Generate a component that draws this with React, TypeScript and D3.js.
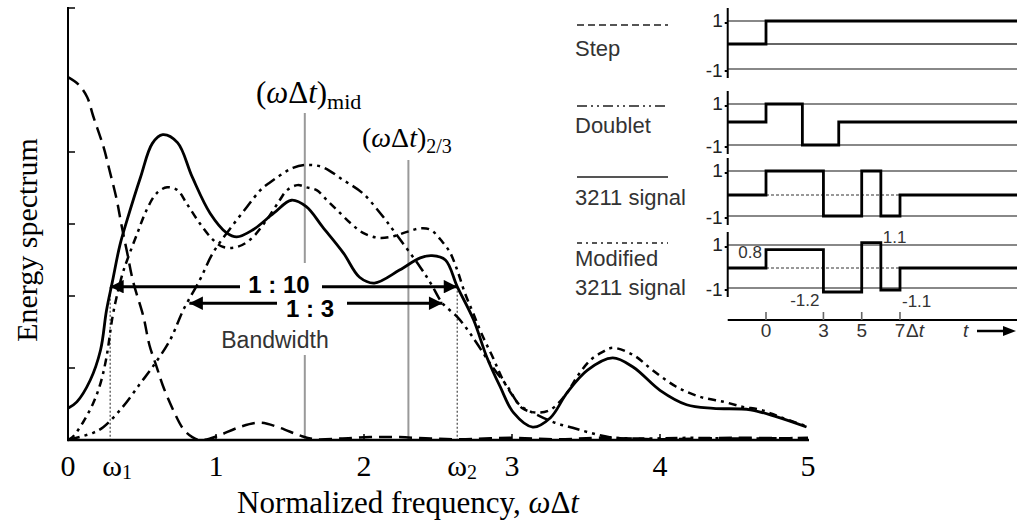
import React from 'react';
import * as d3 from 'd3';

// ---------------- main chart data ----------------
const stepOmega = [0, 0.07, 0.13, 0.17, 0.24, 0.28, 0.33, 0.36, 0.40, 0.44, 0.51, 0.55, 0.60, 0.64, 0.71, 0.78, 0.84, 0.89, 0.96, 1.03, 1.16, 1.30, 1.43, 1.57, 1.67, 1.84, 2.04, 2.24, 2.45, 2.65, 3.0, 3.3, 3.6, 4.0, 4.5, 5.0];
const stepEnergy = [5.04, 4.94, 4.76, 4.5, 4.07, 3.75, 3.33, 3.0, 2.6, 2.2, 1.71, 1.32, 1.01, 0.76, 0.42, 0.15, 0.04, 0.0, 0.02, 0.07, 0.18, 0.24, 0.17, 0.06, 0.01, 0.02, 0.04, 0.04, 0.02, 0.01, 0.03, 0.01, 0.03, 0.01, 0.03, 0.02];

const solidOmega = [0, 0.06, 0.15, 0.22, 0.26, 0.30, 0.35, 0.40, 0.49, 0.57, 0.64, 0.74, 0.84, 0.96, 1.07, 1.14, 1.25, 1.39, 1.51, 1.61, 1.72, 1.86, 1.97, 2.07, 2.24, 2.38, 2.46, 2.55, 2.63, 2.74, 2.83, 2.92, 3.01, 3.14, 3.26, 3.37, 3.51, 3.68, 3.82, 4.0, 4.18, 4.36, 4.61, 4.79, 4.99];
const solidEnergy = [0.44, 0.53, 0.83, 1.25, 1.8, 2.2, 2.7, 3.06, 3.65, 4.12, 4.24, 4.13, 3.65, 3.15, 2.88, 2.82, 2.92, 3.15, 3.33, 3.24, 2.96, 2.60, 2.26, 2.18, 2.36, 2.53, 2.56, 2.50, 2.13, 1.67, 1.15, 0.74, 0.38, 0.18, 0.31, 0.65, 0.97, 1.14, 1.01, 0.69, 0.49, 0.44, 0.42, 0.32, 0.18];

const doubletOmega = [0, 0.17, 0.24, 0.37, 0.49, 0.57, 0.69, 0.78, 0.89, 0.98, 1.09, 1.21, 1.30, 1.36, 1.52, 1.61, 1.72, 1.86, 1.99, 2.11, 2.21, 2.38, 2.45, 2.53, 2.63, 2.70, 2.76, 2.87, 2.97, 3.05, 3.17, 3.29, 3.41, 3.53, 3.66, 3.86, 4.2, 4.6, 5.0];
const doubletEnergy = [0, 0.10, 0.18, 0.46, 0.79, 1.01, 1.39, 1.81, 2.22, 2.60, 2.92, 3.24, 3.47, 3.57, 3.78, 3.82, 3.79, 3.61, 3.43, 3.15, 2.88, 2.40, 2.18, 1.90, 1.71, 1.53, 1.35, 1.01, 0.74, 0.49, 0.35, 0.24, 0.17, 0.10, 0.04, 0.02, 0.03, 0.02, 0.03];

const modOmega = [0, 0.03, 0.10, 0.17, 0.22, 0.26, 0.30, 0.33, 0.37, 0.40, 0.47, 0.53, 0.60, 0.67, 0.74, 0.80, 0.89, 0.98, 1.05, 1.14, 1.23, 1.34, 1.43, 1.48, 1.55, 1.61, 1.68, 1.75, 1.82, 1.91, 1.99, 2.09, 2.18, 2.29, 2.38, 2.45, 2.53, 2.58, 2.63, 2.68, 2.74, 2.80, 2.87, 2.94, 3.01, 3.07, 3.17, 3.26, 3.37, 3.44, 3.53, 3.61, 3.68, 3.82, 3.95, 4.11, 4.27, 4.43, 4.56, 4.68, 4.81, 4.99];
const modEnergy = [0, 0.04, 0.24, 0.51, 0.79, 1.15, 1.7, 2.0, 2.32, 2.5, 2.88, 3.19, 3.43, 3.51, 3.47, 3.29, 3.01, 2.78, 2.68, 2.68, 2.78, 3.05, 3.33, 3.47, 3.54, 3.51, 3.47, 3.33, 3.19, 3.01, 2.88, 2.81, 2.82, 2.89, 2.94, 2.92, 2.75, 2.61, 2.36, 2.05, 1.75, 1.45, 1.15, 0.83, 0.60, 0.44, 0.38, 0.42, 0.65, 0.88, 1.11, 1.22, 1.28, 1.18, 0.97, 0.74, 0.60, 0.53, 0.46, 0.42, 0.32, 0.19];

const xTickValues = [0, 1, 2, 3, 4, 5];
const yTickValues = [1, 2, 3, 4, 6];
const band10 = [0.285, 2.63]; // 1 : 10 bandwidth (omega1, omega2)
const band3 = [0.82, 2.53];   // 1 : 3 bandwidth
const band10Level = 2.13;
const band3Level = 1.90;
const omegaMid = 1.60;
const omegaTwoThirds = 2.30;

// ---------------- inset data ----------------
const stepT = [-2, 0, 13.2];
const stepV = [0, 1, 1];
const doubletT = [-2, 0, 1.9, 3.8, 13.2];
const doubletV = [0, 1, -1, 0, 0];
const s3211T = [-2, 0, 3, 5, 6, 7, 13.2];
const s3211V = [0, 1, -1, 1, -1, 0, 0];
const modT = [-2, 0, 3, 5, 6, 7, 13.2];
const modV = [0, 0.8, -1.2, 1.1, -1.1, 0, 0];
const timeTicks = [0, 3, 5, 7];
const annT = [0, 3, 6, 7];
const annV = [0.8, -1.2, 1.1, -1.1];
const annText = ['0.8', '-1.2', '1.1', '-1.1'];

const SERIF = "'Liberation Serif', 'Times New Roman', serif";
const SANS = "'Liberation Sans', Arial, Helvetica, sans-serif";

const zip = (a: number[], b: number[]) => a.map((v, i) => [v, b[i]] as [number, number]);

export default function App() {
  const x = d3.scaleLinear().domain([0, 5]).range([68, 808]);
  const y = d3.scaleLinear().domain([0, 6]).range([440, 8]);
  const line = d3
    .line<[number, number]>()
    .x((d) => x(d[0]))
    .y((d) => Math.min(440, y(d[1])))
    .curve(d3.curveCatmullRom.alpha(0.5));

  const curves = [
    { d: zip(stepOmega, stepEnergy), dash: '13,7', w: 2.5 },
    { d: zip(doubletOmega, doubletEnergy), dash: '12,5,3,5,3,5', w: 2.5 },
    { d: zip(modOmega, modEnergy), dash: '8,5,3,5', w: 2.5 },
    { d: zip(solidOmega, solidEnergy), dash: null, w: 2.8 },
  ];

  // inset scales
  const tx = d3.scaleLinear().domain([0, 7]).range([766, 900]);
  const panels = [
    { p1: 21, z: 44, m1: 69, t: stepT, v: stepV, dash0: false },
    { p1: 104, z: 122, m1: 145, t: doubletT, v: doubletV, dash0: false },
    { p1: 171, z: 195, m1: 216, t: s3211T, v: s3211V, dash0: true },
    { p1: 245, z: 268, m1: 288, t: modT, v: modV, dash0: true },
  ];
  const legendY = [25, 106, 177, 243];
  const legendDash = ['7,4', '10,4,2,4,2,4', null, '5,4,2,4'];
  const legendLabelY = [[56], [133], [205], [266, 295]];
  const legendLabelText = [['Step'], ['Doublet'], ['3211 signal'], ['Modified', '3211 signal']];

  const axisLeft = tx(-2);
  const axisRight = 1017;

  return (
    <svg
      width={1017}
      height={524}
      style={{ position: 'absolute', left: 0, top: 0, background: '#fff' }}
    >
      <rect x={0} y={0} width={1017} height={524} fill="#fff" />

      {/* grey reference lines */}
      <line x1={x(omegaMid)} x2={x(omegaMid)} y1={113} y2={263} stroke="#999" strokeWidth={2} />
      <line x1={x(omegaMid)} x2={x(omegaMid)} y1={355} y2={440} stroke="#999" strokeWidth={2} />
      <line x1={x(omegaTwoThirds)} x2={x(omegaTwoThirds)} y1={160} y2={440} stroke="#999" strokeWidth={2} />
      {/* dotted omega1 / omega2 */}
      {band10.map((w, i) => (
        <line key={i} x1={x(w)} x2={x(w)} y1={y(band10Level)} y2={440} stroke="#555" strokeWidth={1.3} strokeDasharray="2,2" />
      ))}

      {/* curves */}
      {curves.map((c, i) => (
        <path
          key={i}
          d={line(c.d) || ''}
          fill="none"
          stroke="#000"
          strokeWidth={c.w}
          strokeDasharray={c.dash || undefined}
        />
      ))}

      {/* axes */}
      <line x1={68} x2={68} y1={7} y2={441} stroke="#000" strokeWidth={2} />
      <line x1={67} x2={809} y1={440} y2={440} stroke="#000" strokeWidth={2.4} />
      {yTickValues.map((t) => (
        <line key={t} x1={68} x2={75} y1={y(t)} y2={y(t)} stroke="#000" strokeWidth={1.5} />
      ))}
      {xTickValues.slice(1, 5).map((t) => (
        <line key={t} x1={x(t)} x2={x(t)} y1={440} y2={434} stroke="#000" strokeWidth={1.5} />
      ))}
      {xTickValues.map((t) => (
        <text key={t} x={x(t)} y={476} textAnchor="middle" fontFamily={SERIF} fontSize={30} fill="#000">
          {t}
        </text>
      ))}
      <text x={x(band10[0]) - 8} y={476} fontFamily={SERIF} fontSize={30} fill="#000">
        ω<tspan fontSize={20} dy={3}>1</tspan>
      </text>
      <text x={x(band10[1]) - 10} y={476} fontFamily={SERIF} fontSize={30} fill="#000">
        ω<tspan fontSize={20} dy={3}>2</tspan>
      </text>

      {/* axis titles */}
      <text x={408} y={513} textAnchor="middle" fontFamily={SERIF} fontSize={31} fill="#000">
        Normalized frequency, <tspan fontStyle="italic">ω</tspan>Δ<tspan fontStyle="italic">t</tspan>
      </text>
      <text
        transform="translate(37,240) rotate(-90)"
        textAnchor="middle"
        fontFamily={SERIF}
        fontSize={30}
        fill="#000"
      >
        Energy spectrum
      </text>

      {/* reference labels */}
      <text x={256} y={103} fontFamily={SERIF} fontSize={31} fill="#000">
        (<tspan fontStyle="italic">ω</tspan>Δ<tspan fontStyle="italic">t</tspan>)
        <tspan fontSize={22} dy={6}>mid</tspan>
      </text>
      <text x={362} y={147} fontFamily={SERIF} fontSize={28} fill="#000">
        (<tspan fontStyle="italic">ω</tspan>Δ<tspan fontStyle="italic">t</tspan>)
        <tspan fontSize={20} dy={6}>2/3</tspan>
      </text>

      {/* bandwidth arrows */}
      <defs>
        <marker id="ah" viewBox="0 0 10 10" refX={10} refY={5} markerWidth={6} markerHeight={4.5} orient="auto-start-reverse" markerUnits="strokeWidth">
          <path d="M0,0 L10,5 L0,10 z" fill="#000" />
        </marker>
      </defs>
      <line x1={x(band10[0])} x2={240} y1={y(band10Level)} y2={y(band10Level)} stroke="#000" strokeWidth={3} markerStart="url(#ah)" />
      <line x1={322} x2={x(band10[1])} y1={y(band10Level)} y2={y(band10Level)} stroke="#000" strokeWidth={3} markerEnd="url(#ah)" />
      <text x={279} y={293} textAnchor="middle" fontFamily={SANS} fontWeight="bold" fontSize={24} fill="#000">
        1 : 10
      </text>
      <line x1={x(band3[0])} x2={277} y1={y(band3Level)} y2={y(band3Level)} stroke="#000" strokeWidth={3} markerStart="url(#ah)" />
      <line x1={347} x2={x(band3[1])} y1={y(band3Level)} y2={y(band3Level)} stroke="#000" strokeWidth={3} markerEnd="url(#ah)" />
      <text x={310} y={317} textAnchor="middle" fontFamily={SANS} fontWeight="bold" fontSize={24} fill="#000">
        1 : 3
      </text>
      <text x={275} y={348} textAnchor="middle" fontFamily={SANS} fontSize={23} fill="#333">
        Bandwidth
      </text>

      {/* ---------------- inset ---------------- */}
      {panels.map((p, i) => {
        const py = d3.scaleLinear().domain([-1, 0, 1]).range([p.m1, p.z, p.p1]);
        const sig = d3
          .line<[number, number]>()
          .x((d) => tx(d[0]))
          .y((d) => py(d[1]))
          .curve(d3.curveStepAfter);
        const endT = p.t[p.t.length - 2];
        return (
          <g key={i}>
            <line x1={axisLeft} x2={axisRight} y1={py(1)} y2={py(1)} stroke="#888" strokeWidth={1.8} />
            <line x1={axisLeft} x2={axisRight} y1={py(-1)} y2={py(-1)} stroke="#888" strokeWidth={1.8} />
            {i === 0 && (
              <line x1={tx(0)} x2={axisRight} y1={py(0)} y2={py(0)} stroke="#666" strokeWidth={2} />
            )}
            {p.dash0 && (
              <line x1={tx(0)} x2={tx(endT)} y1={py(0)} y2={py(0)} stroke="#777" strokeWidth={1.5} strokeDasharray="3,2" />
            )}
            <path d={sig(zip(p.t, p.v)) || ''} fill="none" stroke="#000" strokeWidth={2.8} />
            <line x1={axisLeft} x2={axisLeft} y1={py(1) - 13} y2={py(-1) + 9} stroke="#000" strokeWidth={2} />
            <line x1={axisLeft - 3} x2={axisLeft} y1={py(1) + 2} y2={py(1) + 2} stroke="#000" strokeWidth={2} />
            <line x1={axisLeft - 3} x2={axisLeft} y1={py(-1) + 2} y2={py(-1) + 2} stroke="#000" strokeWidth={2} />
            <text x={axisLeft - 5} y={py(1) + 6} textAnchor="end" fontFamily={SANS} fontSize={19} fill="#222">1</text>
            <text x={axisLeft - 5} y={py(-1) + 8} textAnchor="end" fontFamily={SANS} fontSize={19} fill="#222">-1</text>
            {/* legend */}
            <line x1={577} x2={668} y1={legendY[i]} y2={legendY[i]} stroke="#555" strokeWidth={2} strokeDasharray={legendDash[i] || undefined} />
            {legendLabelText[i].map((s, j) => (
              <text key={j} x={575} y={legendLabelY[i][j]} fontFamily={SANS} fontSize={22} fill="#333">
                {s}
              </text>
            ))}
            {i === 3 &&
              annT.map((t, k) => {
                const anchor = k === 0 || k === 1 ? 'end' : 'start';
                const dx = k === 0 ? -4 : k === 1 ? -4 : 2;
                const dy = k === 0 ? 8 : k === 1 ? 14 : k === 2 ? 0 : 17;
                return (
                  <text key={k} x={tx(t) + dx} y={py(annV[k]) + dy} textAnchor={anchor} fontFamily={SANS} fontSize={17} fill="#333">
                    {annText[k]}
                  </text>
                );
              })}
          </g>
        );
      })}

      {/* time axis */}
      <line x1={axisLeft} x2={axisRight} y1={320} y2={320} stroke="#000" strokeWidth={2} />
      {timeTicks.map((t) => (
        <line key={t} x1={tx(t)} x2={tx(t)} y1={312} y2={320} stroke="#666" strokeWidth={1.6} />
      ))}
      {timeTicks.map((t) => (
        <text key={t} x={tx(t)} y={337} textAnchor="middle" fontFamily={SANS} fontSize={19} fill="#333">
          {t}
        </text>
      ))}
      <text x={tx(7) + 6} y={337} fontFamily={SANS} fontSize={19} fill="#333">
        Δ<tspan fontStyle="italic">t</tspan>
      </text>
      <text x={963} y={337} fontFamily={SANS} fontSize={19} fontStyle="italic" fill="#333">t</text>
      <line x1={977} x2={1005} y1={331} y2={331} stroke="#000" strokeWidth={2.5} />
      <path d="M1003,326 L1016,331 L1003,336 z" fill="#000" />
    </svg>
  );
}
